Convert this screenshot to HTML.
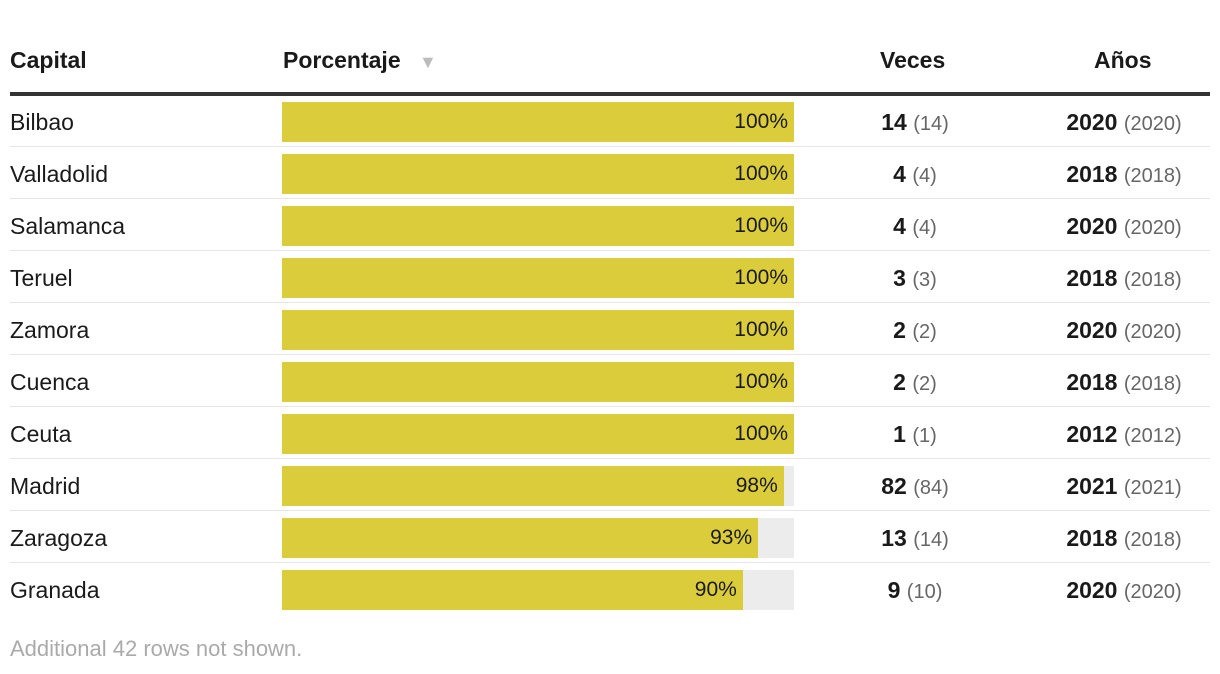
<!DOCTYPE html>
<html><head><meta charset="utf-8"><style>
body{margin:0;width:1220px;height:674px;background:#fff;font-family:"Liberation Sans",sans-serif;color:#1a1a1a;position:relative;overflow:hidden}
.a{position:absolute;white-space:nowrap}
.h{font-weight:bold;font-size:23px;top:47px}
.c{font-size:23px}
.g{color:#666;font-weight:normal;font-size:20px}
</style></head><body>
<div class="a h" style="left:10px">Capital</div>
<div class="a h" style="left:283px">Porcentaje <span style="color:#bbb;font-size:18px;margin-left:12px">▼</span></div>
<div class="a h" style="left:880px">Veces</div>
<div class="a h" style="left:1094px">Años</div>
<div class="a" style="left:10px;top:92px;width:1200px;height:4px;background:#333"></div>
<div id="rows"></div>
<div class="a" style="left:10px;top:636px;font-size:22px;color:#aaa">Additional 42 rows not shown.</div>
<script>
const capitals=["Bilbao","Valladolid","Salamanca","Teruel","Zamora","Cuenca","Ceuta","Madrid","Zaragoza","Granada"];
const pct=[100,100,100,100,100,100,100,98,93,90];
const veces=[14,4,4,3,2,2,1,82,13,9];
const vecesTot=[14,4,4,3,2,2,1,84,14,10];
const anos=[2020,2018,2020,2018,2020,2018,2012,2021,2018,2020];
const anosTot=[2020,2018,2020,2018,2020,2018,2012,2021,2018,2020];
const root=document.getElementById('rows');
const x0=282,W=512;
capitals.forEach((c,i)=>{
  const top=96+i*52;
  const row=document.createElement('div');
  row.className='a';row.style.cssText=`left:0;top:${top}px;width:1220px;height:52px`;
  
  
  row.innerHTML=`<div class="a c" style="left:10px;top:13px">${c}</div>
<div class="a" style="left:${x0}px;top:6px;width:${W}px;height:40px;background:#ececec"></div>
<div class="a" style="left:${x0}px;top:6px;width:${W*pct[i]/100}px;height:40px;background:#dbcc3b"></div>
<div class="a" style="left:${x0}px;top:14px;width:${W*pct[i]/100-6}px;text-align:right;font-size:21px">${pct[i]}%</div>
<div class="a c" style="left:815px;width:200px;text-align:center;top:13px"><b>${veces[i]}</b> <span class="g">(${vecesTot[i]})</span></div>
<div class="a c" style="left:1024px;width:200px;text-align:center;top:13px"><b>${anos[i]}</b> <span class="g">(${anosTot[i]})</span></div>
${i<capitals.length-1?'<div class="a" style="left:10px;top:50px;width:1200px;height:1px;background:#e6e6e6"></div>':''}`;
  root.appendChild(row);
});
</script>
</body></html>
